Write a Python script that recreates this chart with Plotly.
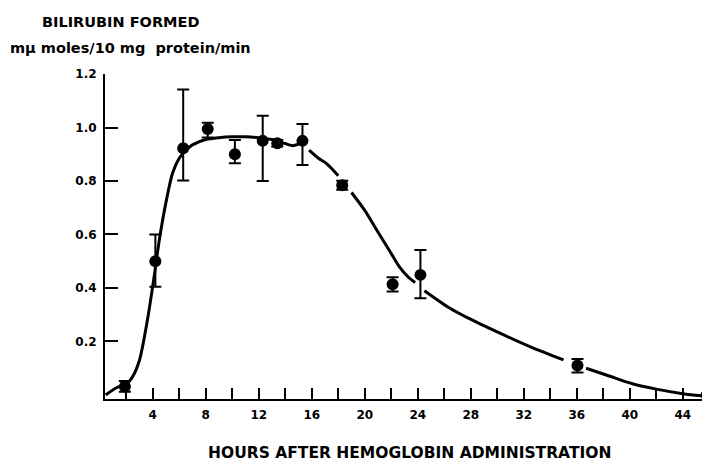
import plotly.graph_objects as go

# Measured data (hours, bilirubin formed) with error bars
hours = [1.9, 4.2, 6.3, 8.15, 10.2, 12.3, 13.4, 15.3, 18.3, 22.1, 24.2, 36.05, 45.8]
bilirubin = [0.032, 0.50, 0.922, 0.994, 0.90, 0.95, 0.941, 0.95, 0.784, 0.414, 0.449, 0.11, 0.0]
err_plus = [0.02, 0.10, 0.22, 0.024, 0.053, 0.094, 0.012, 0.063, 0.017, 0.026, 0.093, 0.025, 0.0]
err_minus = [0.02, 0.095, 0.12, 0.031, 0.034, 0.15, 0.012, 0.09, 0.017, 0.027, 0.087, 0.026, 0.0]

# Hand-drawn fitted curve (None = gap in the drawn line)
curve_x = [0.45, 1.3, 2.0, 2.5, 3.0, 3.6, 4.1, 4.5, 5.0, 5.5, 6.0, 6.5, 7.0, 8.0, 9.0, 10.0, 11.0, 12.0, 13.0, 14.0, 14.6, 15.3,
           None, 15.8, 16.5, 17.1, 18.0,
           None, 19.0, 20.0, 20.9, 21.8, 22.6, 23.3, 23.8,
           None, 24.5, 26.4, 27.7, 30.2, 32.5, 35.0,
           None, 36.7, 38.5, 40.2, 42.0, 44.0, 45.8]
curve_y = [0.0, 0.028, 0.04, 0.07, 0.13, 0.28, 0.44, 0.58, 0.72, 0.83, 0.885, 0.915, 0.935, 0.955, 0.962, 0.965, 0.965, 0.962, 0.955, 0.94, 0.932, 0.945,
           None, 0.915, 0.885, 0.866, 0.82,
           None, 0.757, 0.69, 0.617, 0.545, 0.48, 0.44, 0.42,
           None, 0.39, 0.325, 0.29, 0.231, 0.18, 0.131,
           None, 0.10, 0.07, 0.042, 0.022, 0.005, -0.005]

x_tickvals = [2, 4, 6, 8, 10, 12, 14, 16, 18, 20, 22, 24, 26, 28, 30, 32, 34, 36, 38, 40, 42, 44]
x_ticktext = ["", "4", "", "8", "", "12", "", "16", "", "20", "", "24", "", "28", "", "32", "", "36", "", "40", "", "44"]
y_tickvals = [0.2, 0.4, 0.6, 0.8, 1.0, 1.2]
y_ticktext = ["0.2", "0.4", "0.6", "0.8", "1.0", "1.2"]

FONT = "DejaVu Sans"

fig = go.Figure()
fig.add_trace(go.Scatter(
    x=curve_x, y=curve_y, mode="lines", connectgaps=False,
    line=dict(color="black", width=3, shape="spline", smoothing=0.8),
    hoverinfo="skip", cliponaxis=False,
))
fig.add_trace(go.Scatter(
    x=hours, y=bilirubin, mode="markers",
    marker=dict(color="black", size=12),
    error_y=dict(type="data", symmetric=False, array=err_plus, arrayminus=err_minus,
                 color="black", thickness=2, width=6),
    cliponaxis=False,
))

fig.update_layout(
    width=702, height=457,
    margin=dict(l=97, r=0, t=66, b=66),
    paper_bgcolor="white", plot_bgcolor="white",
    showlegend=False,
    font=dict(family=FONT, color="black"),
    xaxis=dict(
        range=[0.4, 46.05], showgrid=False, zeroline=False,
        showline=True, linecolor="black", linewidth=2,
        ticks="inside", ticklen=11, tickwidth=1.5, tickcolor="black",
        tickvals=x_tickvals, ticktext=x_ticktext,
        tickfont=dict(family=FONT, size=12, weight="bold"),
        ticklabelstandoff=4,
    ),
    yaxis=dict(
        range=[-0.015, 1.2], showgrid=False, zeroline=False,
        showline=True, linecolor="black", linewidth=2,
        ticks="inside", ticklen=13, tickwidth=1.5, tickcolor="black",
        tickvals=y_tickvals, ticktext=y_ticktext,
        tickfont=dict(family=FONT, size=12, weight="bold"),
        ticklabelstandoff=4,
    ),
    annotations=[
        dict(text="BILIRUBIN FORMED", xref="paper", yref="paper",
             x=-0.1074, y=1.16, xanchor="left", yanchor="middle", showarrow=False,
             font=dict(family=FONT, size=14.5, weight="bold")),
        dict(text="mμ moles/10 mg  protein/min", xref="paper", yref="paper",
             x=-0.1603, y=1.08, xanchor="left", yanchor="middle", showarrow=False,
             font=dict(family=FONT, size=14.5, weight="bold")),
        dict(text="HOURS AFTER HEMOGLOBIN ADMINISTRATION", xref="paper", yref="paper",
             x=0.504, y=-0.2, xanchor="center", yanchor="bottom", showarrow=False,
             font=dict(family=FONT, size=15.5, weight="bold")),
    ],
)

fig.write_html("out.html")
